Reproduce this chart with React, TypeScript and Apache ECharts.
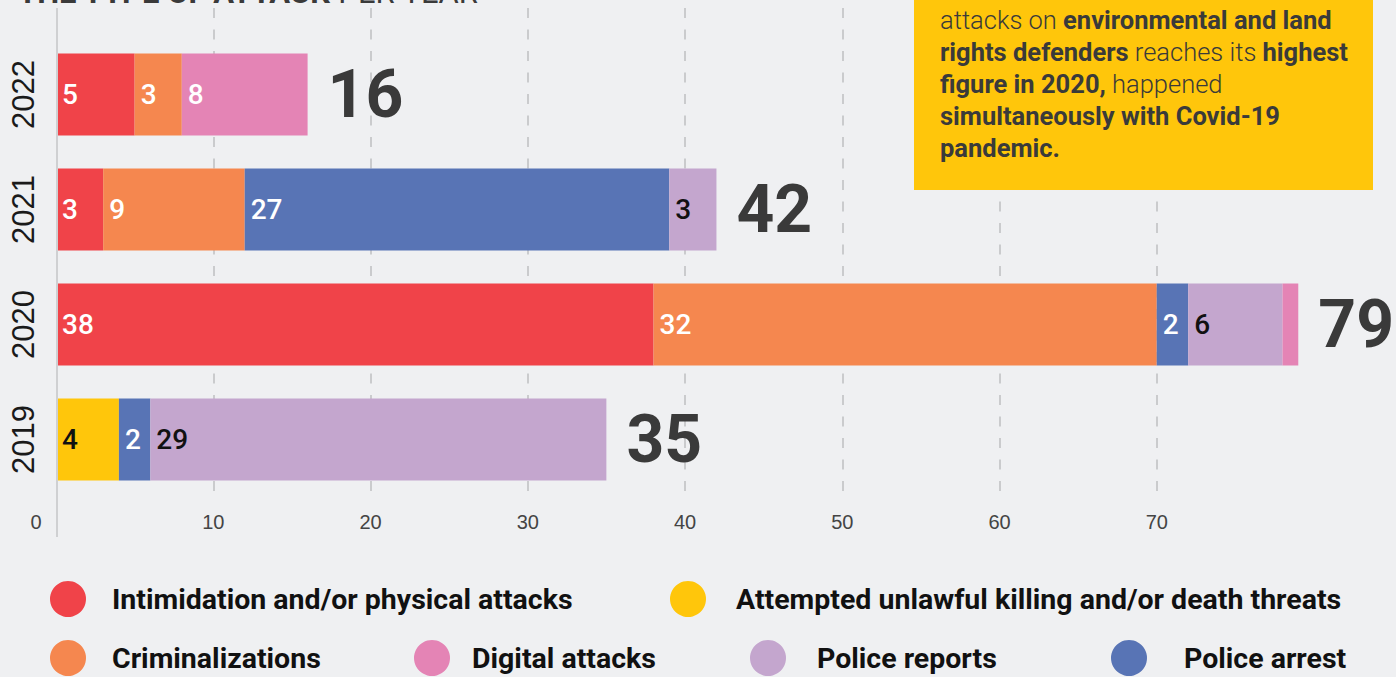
import React, { useEffect, useRef } from "react";
import * as echarts from "echarts";

const years = ["2019", "2020", "2021", "2022"];
const intimidation = [null, 38, 3, 5];
const attempted = [4, null, null, null];
const criminalizations = [null, 32, 9, 3];
const policeArrest = [2, 2, 27, null];
const policeReports = [29, 6, 3, null];
const digital = [null, 1, null, 8];
const totals = [35, 79, 42, 16];

const seriesDefs = [
  { name: "Intimidation and/or physical attacks", data: intimidation, color: "#F04349", text: "#ffffff" },
  { name: "Attempted unlawful killing and/or death threats", data: attempted, color: "#FFC60B", text: "#111111" },
  { name: "Criminalizations", data: criminalizations, color: "#F5874F", text: "#ffffff" },
  { name: "Police arrest", data: policeArrest, color: "#5874B5", text: "#ffffff" },
  { name: "Police reports", data: policeReports, color: "#C4A6CE", text: "#111111" },
  { name: "Digital attacks", data: digital, color: "#E484B5", text: "#ffffff" },
];

const legendLayout = [
  { name: "Intimidation and/or physical attacks", left: 50, top: 581, pad: 21 },
  { name: "Attempted unlawful killing and/or death threats", left: 670, top: 581, pad: 25 },
  { name: "Criminalizations", left: 50, top: 640, pad: 21 },
  { name: "Digital attacks", left: 414, top: 640, pad: 17 },
  { name: "Police reports", left: 750, top: 640, pad: 26 },
  { name: "Police arrest", left: 1111, top: 640, pad: 32 },
];

const roboto = "Roboto, sans-serif";

export default function App() {
  const ref = useRef<HTMLDivElement>(null);
  useEffect(() => {
    document.body.style.margin = "0";
    const chart = echarts.init(ref.current!, null, { renderer: "svg" });
    const series: any[] = seriesDefs.map((s) => ({
      name: s.name,
      type: "bar",
      stack: "total",
      xAxisIndex: 0,
      yAxisIndex: 0,
      barWidth: 82,
      data: s.data,
      itemStyle: { color: s.color },
      label: {
        show: true,
        position: "insideLeft",
        distance: 6,
        color: s.text,
        fontSize: 28,
        fontWeight: 500,
        fontFamily: roboto,
        formatter: (p: any) => (p.value >= 2 ? String(p.value) : ""),
      },
    }));
    series.push({
      name: "Total",
      type: "bar",
      xAxisIndex: 0,
      yAxisIndex: 0,
      barWidth: 82,
      barGap: "-100%",
      data: totals,
      silent: true,
      itemStyle: { color: "rgba(0,0,0,0)" },
      label: {
        show: true,
        position: "right",
        distance: 20,
        color: "#3a3a3a",
        fontSize: 66,
        fontWeight: "bold",
        fontFamily: roboto,
      },
      z: 1,
    });

    chart.setOption({
      animation: false,
      backgroundColor: "#EFF0F2",
      grid: [
        { left: 56, width: 1258, top: 37, height: 460 },
        { left: 56, width: 1258, top: 8, height: 492 },
      ],
      xAxis: [
        { type: "value", gridIndex: 0, min: 0, max: 80, show: false },
        {
          type: "value",
          gridIndex: 1,
          min: 0,
          max: 80,
          interval: 10,
          axisLine: { show: false },
          axisTick: { show: false },
          splitLine: {
            show: true,
            showMinLine: false,
            showMaxLine: false,
            lineStyle: { color: "#CACBCD", width: 2, type: [10, 11.5] },
          },
          axisLabel: {
            margin: 12,
            showMaxLabel: false,
            fontSize: 20,
            color: "#444",
            fontFamily: "'Liberation Sans', sans-serif",
            formatter: (v: number) => (v === 0 ? "{z|0}" : String(v)),
            rich: { z: { padding: [0, 40, 0, 0], fontSize: 20, color: "#444" } },
          },
        },
      ],
      yAxis: [
        {
          type: "category",
          gridIndex: 0,
          data: years,
          axisLine: { show: false },
          axisTick: { show: false },
          axisLabel: {
            rotate: 90,
            margin: 17,
            fontSize: 31,
            color: "#1a1a1a",
            fontFamily: "'Liberation Sans', sans-serif",
          },
        },
        { type: "value", gridIndex: 1, show: false },
      ],
      legend: legendLayout.map((l) => ({
        data: [l.name],
        left: l.left,
        top: l.top,
        padding: 0,
        icon: "circle",
        itemWidth: 36,
        itemHeight: 36,
        selectedMode: false,
        textStyle: {
          fontSize: 28.5,
          fontWeight: "bold",
          fontFamily: roboto,
          color: "#111",
          padding: [0, 0, 0, l.pad],
        },
      })),
      graphic: [
        {
          type: "line",
          shape: { x1: 57, y1: 8, x2: 57, y2: 537 },
          style: { stroke: "#CFD0D2", lineWidth: 2 },
          z: 5,
        },
        {
          type: "text",
          x: 18,
          y: -8,
          style: {
            text: "{b|THE TYPE OF ATTACK}{r| PER YEAR}",
            verticalAlign: "middle",
            rich: {
              b: { fontSize: 31, fontWeight: "bold", fontFamily: roboto, fill: "#3a3a3a" },
              r: { fontSize: 31, fontWeight: "normal", fontFamily: roboto, fill: "#3a3a3a" },
            },
          },
        },
        {
          type: "rect",
          shape: { x: 914, y: -10, width: 459, height: 200 },
          style: { fill: "#FFC60B" },
          z: 10,
        },
        {
          type: "text",
          x: 940,
          y: 4,
          z: 11,
          style: {
            text:
              "{r|attacks on }{b|environmental and land}\n" +
              "{b|rights defenders}{r| reaches its }{b|highest}\n" +
              "{b|figure in 2020,}{r| happened}\n" +
              "{b|simultaneously with Covid-19}\n" +
              "{b|pandemic.}",
            verticalAlign: "top",
            rich: {
              r: { fontSize: 25.5, lineHeight: 32, fontFamily: roboto, fontWeight: 300, fill: "#3a3a3a" },
              b: { fontSize: 25.5, lineHeight: 32, fontFamily: roboto, fontWeight: "bold", fill: "#3a3a3a" },
            },
          },
        },
      ],
      series,
    });
    return () => chart.dispose();
  }, []);
  return <div ref={ref} style={{ width: 1396, height: 677 }} />;
}
